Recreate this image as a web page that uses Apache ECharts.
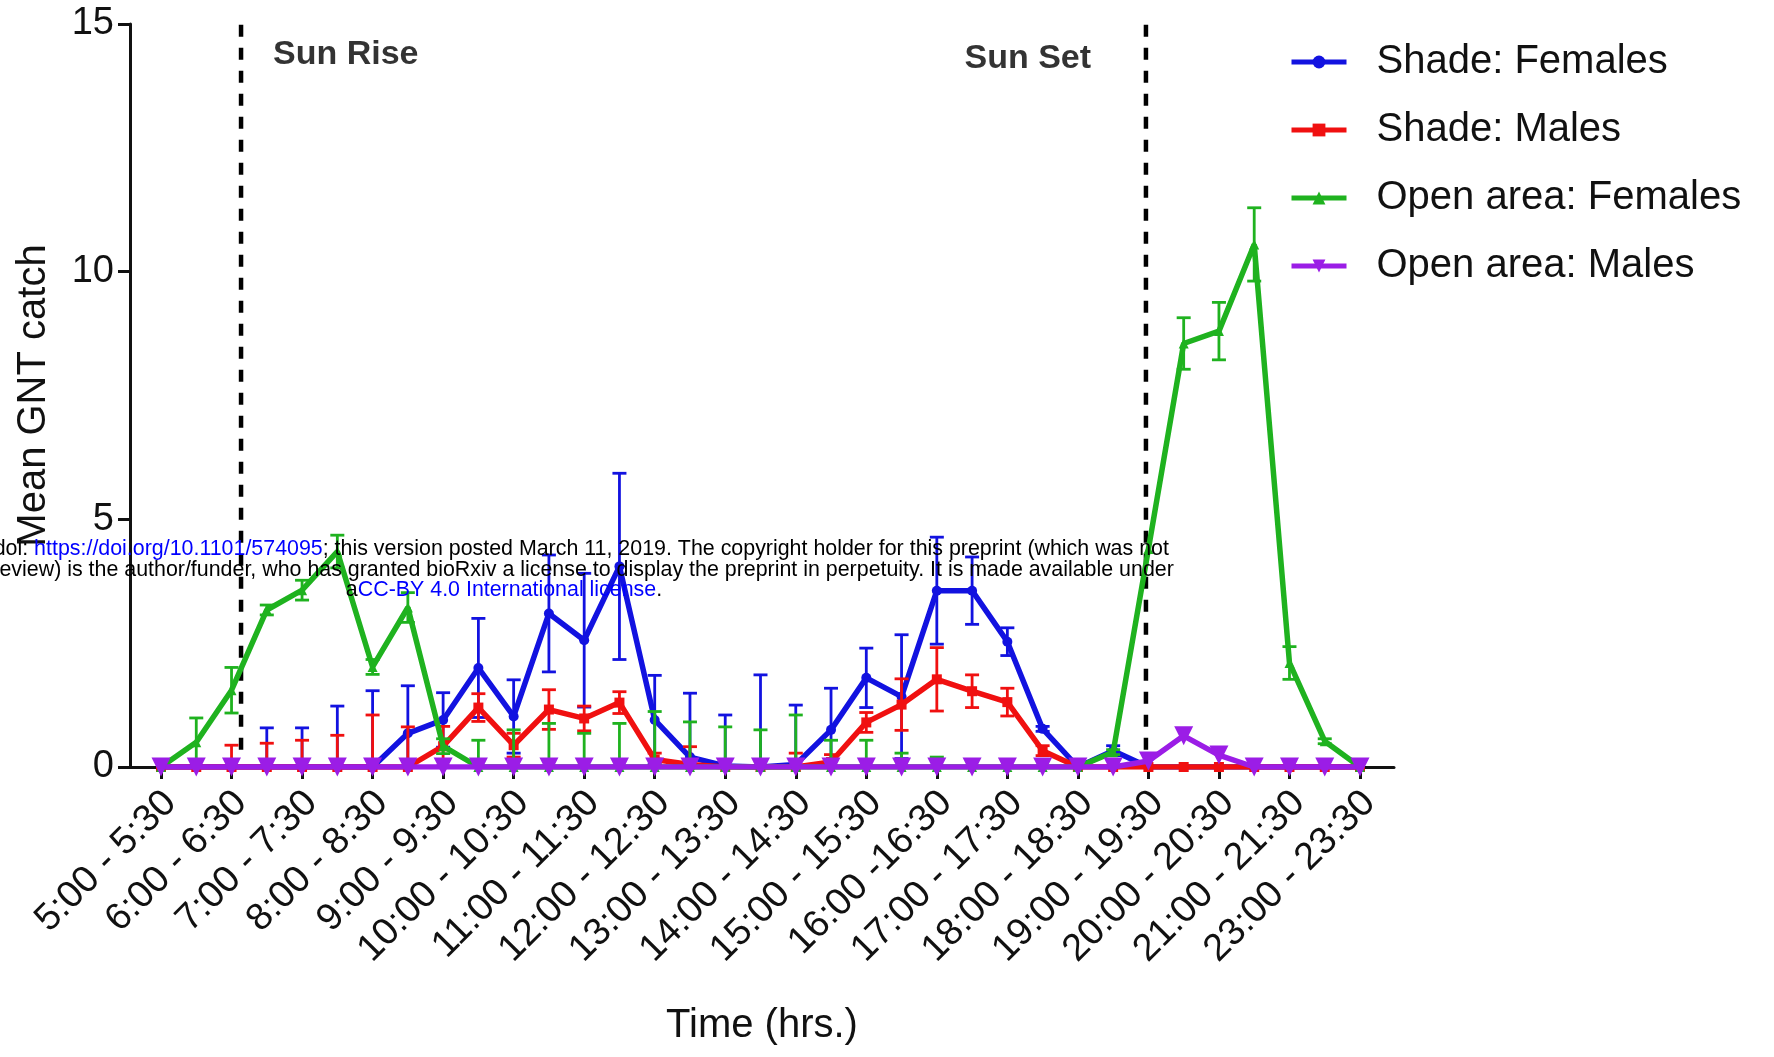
<!DOCTYPE html>
<html>
<head>
<meta charset="utf-8">
<script src="https://cdn.jsdelivr.net/npm/echarts@6/dist/echarts.min.js"></script>
<style>
html,body{margin:0;padding:0;background:#fff;}
#chart{width:1774px;height:1057px;}
</style>
</head>
<body>
<div id="chart"></div>
<script>
// ---- data (slot index 0..34 = half-hour sampling slots) ----
const tickSlots = [0,2,4,6,8,10,12,14,16,18,20,22,24,26,28,30,32,34];
const tickLabels = ['5:00 - 5:30','6:00 - 6:30','7:00 - 7:30','8:00 - 8:30','9:00 - 9:30',
  '10:00 - 10:30','11:00 - 11:30','12:00 - 12:30','13:00 - 13:30','14:00 - 14:30',
  '15:00 - 15:30','16:00 -16:30','17:00 - 17:30','18:00 - 18:30','19:00 - 19:30',
  '20:00 - 20:30','21:00 - 21:30','23:00 - 23:30'];
const seriesNames = ['Shade: Females','Shade: Males','Open area: Females','Open area: Males'];

const shadeFemales = [0,0,0,0,0,0,0,0.68,0.95,2.0,1.02,3.1,2.56,4.05,0.95,0.2,0.02,0,0.05,0.75,1.8,1.42,3.56,3.56,2.53,0.77,0,0.33,0,0,0,0,0,0,0];
const shadeFemalesErr = [0,0,0,0.79,0.79,1.23,1.54,0.96,0.55,1.0,0.74,1.18,1.35,1.88,0.9,1.29,1.03,1.86,1.2,0.84,0.6,1.25,1.08,0.68,0.28,0.05,0,0.1,0,0,0,0,0,0,0];
const shadeMales = [0,0,0,0,0,0,0,0,0.42,1.2,0.44,1.16,0.98,1.3,0.15,0.05,0,0,0,0.1,0.9,1.26,1.77,1.53,1.31,0.33,0,0,0,0,0,0,0,0,0];
const shadeMalesErr = [0,0,0.44,0.48,0.54,0.64,1.05,0.81,0.4,0.28,0.24,0.4,0.25,0.22,0.13,0.36,0,0,0.28,0.15,0.2,0.52,0.64,0.33,0.28,0.1,0,0,0,0,0,0,0,0,0];
const openFemales = [0,0.5,1.55,3.17,3.57,4.35,2.02,3.22,0.42,0,0,0,0,0,0,0,0,0,0,0,0,0,0,0,0,0,0,0.3,4.4,8.55,8.8,10.55,2.1,0.52,0];
const openFemalesErr = [0,0.49,0.46,0.1,0.2,0.33,0.15,0.3,0.15,0.54,0.75,0.88,0.68,0.88,1.12,0.91,0.81,0.75,1.05,0.54,0.54,0.28,0.2,0,0,0,0,0.05,0,0.52,0.58,0.74,0.33,0.05,0];
const openMales = [0,0,0,0,0,0,0,0,0,0,0,0,0,0,0,0,0,0,0,0,0,0,0,0,0,0,0,0,0.12,0.63,0.24,0,0,0,0];
const openMalesErr = [0,0,0,0,0,0,0,0,0,0,0,0,0,0,0,0,0,0,0,0,0,0,0,0,0,0,0,0,0,0,0,0,0,0,0];

const sunRiseSlot = 2.27;
const sunSetSlot = 27.93;
const sunLineSpan = [0.35, 15];

// ---- styling ----
const FONT = "'Liberation Sans', Arial, Helvetica, sans-serif";
const colors = ['#1212e0','#f01010','#1fb21f','#9b1de6'];
const symbols = ['circle','rect','triangle','triangle'];
const symbolSizes = [10,10,10,19];
const symbolRotates = [0,0,0,180];
const means = [shadeFemales, shadeMales, openFemales, openMales];
const errs = [shadeFemalesErr, shadeMalesErr, openFemalesErr, openMalesErr];

function errRender(color){
  return function(params, api){
    const x = api.value(0), y = api.value(1), e = api.value(2);
    if (!e) return null;
    const lo = Math.max(0, y - e), hi = y + e;
    const pt = api.coord([x, hi]);
    const pb = api.coord([x, lo]);
    const cw = 7;
    const st = {stroke: color, lineWidth: 2.8};
    const ch = [
      {type:'line', shape:{x1:pt[0],y1:pt[1],x2:pb[0],y2:pb[1]}, style:st},
      {type:'line', shape:{x1:pt[0]-cw,y1:pt[1],x2:pt[0]+cw,y2:pt[1]}, style:st}
    ];
    if (y - e >= 0) ch.push({type:'line', shape:{x1:pb[0]-cw,y1:pb[1],x2:pb[0]+cw,y2:pb[1]}, style:st});
    return {type:'group', children: ch};
  };
}

const series = [];
// sun rise / sun set dashed lines
[sunRiseSlot, sunSetSlot].forEach((s, k) => {
  series.push({
    name: k ? 'sunSetLine' : 'sunRiseLine',
    type: 'line',
    data: sunLineSpan.map(v => [s, v]),
    symbol: 'none',
    lineStyle: {color: '#000', width: 4.5, type: [12, 11]},
    silent: true,
    z: 1
  });
});
seriesNames.forEach((name, k) => {
  series.push({
    name: name + ' SEM',
    type: 'custom',
    renderItem: errRender(colors[k]),
    data: means[k].map((v,i)=>[i, v, errs[k][i]]),
    encode: {x:0, y:1},
    itemStyle: {color: colors[k]},
    clip: true,
    z: 2 + k*2,
    silent: true
  });
});
seriesNames.forEach((name, k) => {
  series.push({
    name: name,
    type: 'line',
    data: means[k].map((v,i)=>[i, v]),
    symbol: symbols[k],
    symbolSize: symbolSizes[k],
    symbolRotate: symbolRotates[k],
    showAllSymbol: true,
    lineStyle: {width: 5.5, color: colors[k]},
    itemStyle: {color: colors[k]},
    z: 3 + k*2
  });
});
// sun labels
series.push({
  name: 'sunLabels',
  type: 'scatter',
  data: [[sunRiseSlot + 0.75, 14.38, 'Sun Rise', 'right'], [sunSetSlot - 1.4, 14.3, 'Sun Set', 'left']].map(d => ({
    value: [d[0], d[1]],
    label: {show: true, position: d[3], formatter: d[2], distance: 5,
      fontFamily: FONT, fontSize: 34, fontWeight: 'bold', color: '#000'}
  })),
  symbolSize: 1,
  itemStyle: {color: 'rgba(0,0,0,0)'},
  silent: true,
  z: 1
});

const wmStyle = {fontFamily: FONT, fontSize: 21.4, fill: '#000'};
const wmBlue = {fontFamily: FONT, fontSize: 21.4, fill: '#0000ff'};
function wmText(text, y){
  return {
    type: 'text', x: 504, y: y, z: 100,
    style: {
      text: text, align: 'center', textAlign: 'center',
      verticalAlign: 'middle', textVerticalAlign: 'middle',
      fontFamily: FONT, fontSize: 21.4, fill: '#000',
      rich: {k: wmStyle, b: wmBlue}
    }
  };
}

const option = {
  backgroundColor: '#ffffff',
  animation: false,
  textStyle: {fontFamily: FONT},
  grid: {left: 130, right: 380, top: 24, bottom: 290, containLabel: false},
  legend: {
    data: seriesNames,
    orient: 'vertical',
    left: 1284,
    top: 37,
    itemWidth: 55,
    itemHeight: 16,
    itemGap: 28,
    lineStyle: {width: 5},
    textStyle: {fontFamily: FONT, fontSize: 40, color: '#111', padding: [0,0,0,25]},
    selectedMode: false
  },
  xAxis: {
    type: 'value',
    min: -0.879,
    max: 34.964,
    name: 'Time (hrs.)',
    nameLocation: 'middle',
    nameGap: 239,
    nameTextStyle: {fontFamily: FONT, fontSize: 40, color: '#111'},
    splitLine: {show: false},
    axisLine: {show: true, onZero: false, lineStyle: {color: '#111', width: 3}},
    axisTick: {show: true, customValues: tickSlots, length: 12, lineStyle: {color: '#111', width: 3}},
    axisLabel: {
      customValues: tickSlots,
      rotate: 45,
      margin: 21,
      verticalAlign: 'top',
      lineHeight: 26,
      fontFamily: FONT,
      fontSize: 38,
      color: '#111',
      formatter: function(v){ const i = tickSlots.indexOf(Math.round(v)); return i >= 0 ? tickLabels[i] : ''; }
    }
  },
  yAxis: {
    type: 'value',
    min: 0,
    max: 15,
    interval: 5,
    name: 'Mean GNT catch',
    nameLocation: 'middle',
    nameGap: 76,
    nameTextStyle: {fontFamily: FONT, fontSize: 40, color: '#111'},
    splitLine: {show: false},
    axisLine: {show: true, onZero: false, lineStyle: {color: '#111', width: 3}},
    axisTick: {show: true, length: 12, lineStyle: {color: '#111', width: 3}},
    axisLabel: {margin: 16, fontFamily: FONT, fontSize: 38, color: '#111'}
  },
  series: series,
  graphic: [
    wmText('{k|bioRxiv preprint doi: }{b|https://doi.org/10.1101/574095}{k|; this version posted March 11, 2019. The copyright holder for this preprint (which was not}', 549),
    wmText('{k|certified by peer review) is the author/funder, who has granted bioRxiv a license to display the preprint in perpetuity. It is made available under}', 570),
    wmText('{k|a}{b|CC-BY 4.0 International license}{k|.}', 590)
  ]
};

const chart = echarts.init(document.getElementById('chart'), null, {renderer: 'canvas'});
chart.setOption(option);
</script>
</body>
</html>
